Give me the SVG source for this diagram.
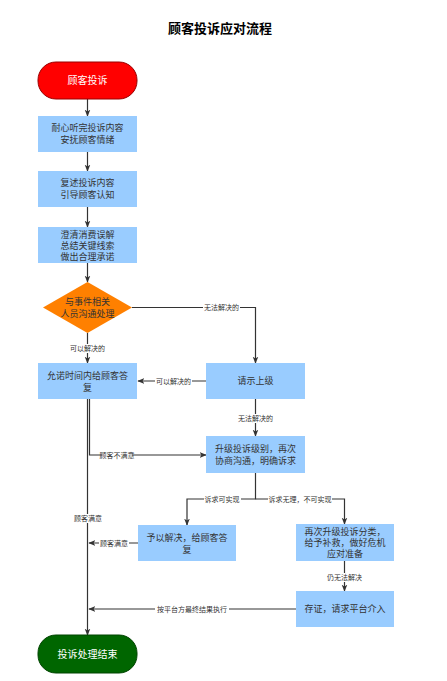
<svg xmlns="http://www.w3.org/2000/svg" width="447" height="681" viewBox="0 0 447 681">
<defs>
<marker id="arr" viewBox="0 0 10 10" refX="9" refY="5" markerWidth="7" markerHeight="7" markerUnits="userSpaceOnUse" orient="auto"><path d="M0,1 L10,5 L0,9 L2.5,5 Z" fill="#333"/></marker>
<style>
.box{fill:#99CCFF;stroke:none}
.t{font-family:"Liberation Sans","Noto Sans CJK SC",sans-serif;font-size:9px;fill:#333;text-anchor:middle}
.tw{font-family:"Liberation Sans","Noto Sans CJK SC",sans-serif;font-size:10px;fill:#fff;text-anchor:middle}
.e{fill:none;stroke:#333;stroke-width:1.2;marker-end:url(#arr)}
.lb{font-family:"Liberation Sans","Noto Sans CJK SC",sans-serif;font-size:7px;fill:#333;text-anchor:middle}
.lbg{fill:#fff}
</style>
</defs>
<rect width="447" height="681" fill="#fff"/>
<text x="220" y="33" font-family="'Liberation Sans','Noto Sans CJK SC',sans-serif" font-size="13" font-weight="bold" text-anchor="middle" fill="#000">顾客投诉应对流程</text>

<g id="connectors">
<path class="e" d="M87.5,99 V116"/>
<path class="e" d="M87.5,152 V171"/>
<path class="e" d="M87.5,207 V227"/>
<path class="e" d="M87.5,263 V282"/>
<path class="e" d="M132,307.5 H255.5 V363"/>
<path class="e" d="M87.5,333 V363"/>
<path class="e" d="M206,381 H138"/>
<path class="e" d="M255.5,399 V436"/>
<path class="e" d="M89.5,399 V455 H206"/>
<path class="e" d="M87.5,399 V635"/>
<path class="e" d="M255.5,473 V499 H187 V525"/>
<path class="e" d="M255.5,499 H344.5 V524"/>
<path class="e" d="M344.5,561 V591"/>
<path class="e" d="M138,543 H89"/>
<path class="e" d="M296,609 H89"/>
<g>
<rect class="lbg" x="203" y="303" width="37" height="9"/><text class="lb" x="221.5" y="310">无法解决的</text>
<rect class="lbg" x="69" y="344" width="37" height="9"/><text class="lb" x="87.5" y="351">可以解决的</text>
<rect class="lbg" x="155" y="377" width="37" height="9"/><text class="lb" x="173.5" y="384">可以解决的</text>
<rect class="lbg" x="237" y="414" width="37" height="9"/><text class="lb" x="255.5" y="421">无法解决的</text>
<rect class="lbg" x="102" y="451" width="30" height="9"/><text class="lb" x="117" y="458">顾客不满意</text>
<rect class="lbg" x="204" y="495" width="37" height="9"/><text class="lb" x="222" y="502">诉求可实现</text>
<rect class="lbg" x="268" y="495" width="64" height="9"/><text class="lb" x="300" y="502">诉求无理，不可实现</text>
<rect class="lbg" x="73" y="514" width="30" height="9"/><text class="lb" x="88" y="521">顾客满意</text>
<rect class="lbg" x="99" y="539" width="30" height="9"/><text class="lb" x="114" y="546">顾客满意</text>
<rect class="lbg" x="325" y="573" width="38" height="9"/><text class="lb" x="344.5" y="580">仍无法解决</text>
<rect class="lbg" x="155" y="605" width="74" height="9"/><text class="lb" x="192" y="612">按平台方最终结果执行</text>
</g>
</g>

<g id="start"><rect x="38" y="62" width="99" height="37" rx="18" fill="#FF0000" stroke="#990000" stroke-width="1"/><text class="tw" x="87.5" y="84">顾客投诉</text></g>
<g id="n1"><rect class="box" x="38" y="116" width="99" height="36"/><text class="t" x="87.5" y="131">耐心听完投诉内容</text><text class="t" x="87.5" y="143">安抚顾客情绪</text></g>
<g id="n2"><rect class="box" x="38" y="171" width="99" height="36"/><text class="t" x="87.5" y="186">复述投诉内容</text><text class="t" x="87.5" y="198">引导顾客认知</text></g>
<g id="n3"><rect class="box" x="38" y="227" width="99" height="36"/><text class="t" x="87.5" y="238">澄清消费误解</text><text class="t" x="87.5" y="249">总结关键线索</text><text class="t" x="87.5" y="260">做出合理承诺</text></g>
<g id="d1"><polygon points="87.5,282 132,307.5 87.5,333 43,307.5" fill="#FF8000"/><text class="t" x="87.5" y="305">与事件相关</text><text class="t" x="87.5" y="317">人员沟通处理</text></g>
<g id="n4"><rect class="box" x="38" y="363" width="99" height="36"/><text class="t" x="87.5" y="379">允诺时间内给顾客答</text><text class="t" x="87.5" y="391">复</text></g>
<g id="n5"><rect class="box" x="206" y="363" width="99" height="36"/><text class="t" x="255.5" y="384">请示上级</text></g>
<g id="n6"><rect class="box" x="206" y="436" width="99" height="37"/><text class="t" x="255.5" y="452">升级投诉级别，再次</text><text class="t" x="255.5" y="464">协商沟通，明确诉求</text></g>
<g id="n7"><rect class="box" x="138" y="525" width="98" height="36"/><text class="t" x="187" y="541">予以解决，给顾客答</text><text class="t" x="187" y="553">复</text></g>
<g id="n8"><rect class="box" x="296" y="524" width="98" height="37"/><text class="t" x="345" y="535">再次升级投诉分类，</text><text class="t" x="345" y="546">给予补救，做好危机</text><text class="t" x="345" y="557">应对准备</text></g>
<g id="n9"><rect class="box" x="296" y="591" width="98" height="36"/><text class="t" x="345" y="612">存证，请求平台介入</text></g>
<g id="end"><rect x="38" y="635" width="99" height="38" rx="18" fill="#006600" stroke="#004400" stroke-width="1"/><text class="tw" x="87.5" y="658">投诉处理结束</text></g>
</svg>
